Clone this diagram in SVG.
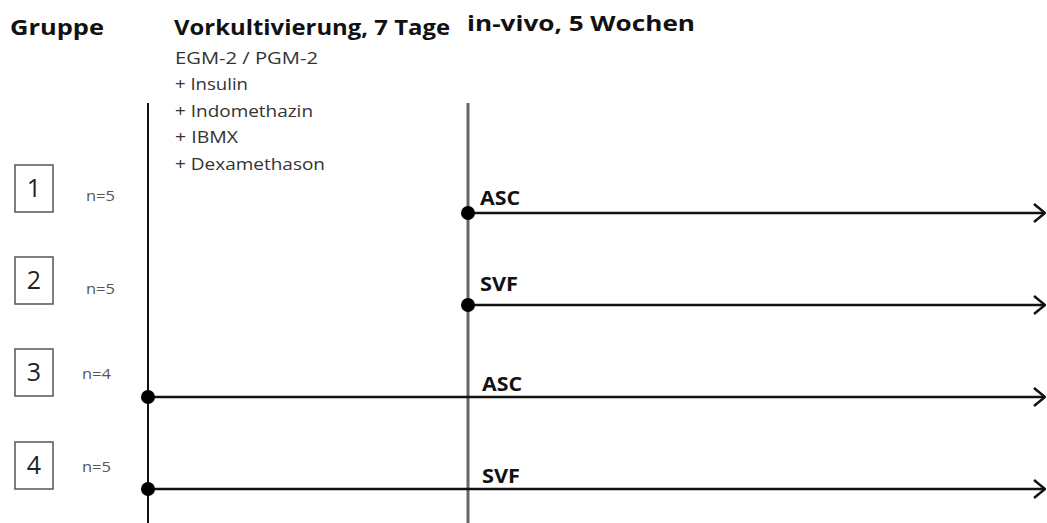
<svg xmlns="http://www.w3.org/2000/svg" width="1047" height="523" viewBox="0 0 1047 523">
  <defs>
    <marker id="chevron" viewBox="0 0 14 20" refX="13" refY="10" markerWidth="14" markerHeight="20" markerUnits="userSpaceOnUse" orient="auto">
      <path d="M2,1 L13,10 L2,19" fill="none" stroke="#111" stroke-width="2.5" stroke-linejoin="miter"/>
    </marker>
    <style>
      text { font-family: "Open Sans", "Liberation Sans", sans-serif; }
      .head { font-size: 21px; font-weight: bold; fill: #111; }
      .med { font-size: 17px; fill: #333; }
      .num { font-size: 25px; fill: #222; text-anchor: middle; }
      .n { font-size: 14px; fill: #555; }
      .cell { font-size: 19px; font-weight: bold; fill: #111; }
      .box { fill: #fff; stroke: #555; stroke-width: 1.5; }
      .row { stroke: #111; stroke-width: 2.5; fill: none; marker-end: url(#chevron); }
      .dot { fill: #000; }
    </style>
  </defs>
  <rect width="1047" height="523" fill="#fff"/>

  <!-- column headings -->
  <g id="headings">
    <text class="head" x="10" y="35" textLength="94" lengthAdjust="spacingAndGlyphs">Gruppe</text>
    <text class="head" x="174" y="35" textLength="276" lengthAdjust="spacingAndGlyphs">Vorkultivierung, 7 Tage</text>
    <text class="head" x="467" y="31" textLength="228" lengthAdjust="spacingAndGlyphs">in-vivo, 5 Wochen</text>
  </g>

  <!-- culture medium and supplements -->
  <g id="medium">
    <text class="med" x="175" y="64" textLength="143" lengthAdjust="spacingAndGlyphs">EGM-2 / PGM-2</text>
    <text class="med" x="175" y="90" textLength="73" lengthAdjust="spacingAndGlyphs">+ Insulin</text>
    <text class="med" x="175" y="117" textLength="138" lengthAdjust="spacingAndGlyphs">+ Indomethazin</text>
    <text class="med" x="175" y="143" textLength="63" lengthAdjust="spacingAndGlyphs">+ IBMX</text>
    <text class="med" x="175" y="170" textLength="150" lengthAdjust="spacingAndGlyphs">+ Dexamethason</text>
  </g>

  <!-- phase boundaries -->
  <g id="phases">
    <line x1="148" y1="103" x2="148" y2="523" stroke="#111" stroke-width="2"/>
    <line x1="468" y1="103" x2="468" y2="523" stroke="#666" stroke-width="3"/>
  </g>

  <!-- groups -->
  <g id="group1">
    <rect class="box" x="15" y="165" width="38" height="47"/>
    <text class="num" x="34" y="197">1</text>
    <text class="n" x="86" y="201" textLength="29" lengthAdjust="spacingAndGlyphs">n=5</text>
  </g>
  <g id="group2">
    <rect class="box" x="15" y="257" width="38" height="47"/>
    <text class="num" x="34" y="289">2</text>
    <text class="n" x="86" y="294" textLength="29" lengthAdjust="spacingAndGlyphs">n=5</text>
  </g>
  <g id="group3">
    <rect class="box" x="15" y="349" width="38" height="47"/>
    <text class="num" x="34" y="381">3</text>
    <text class="n" x="82" y="379" textLength="29" lengthAdjust="spacingAndGlyphs">n=4</text>
  </g>
  <g id="group4">
    <rect class="box" x="15" y="442" width="38" height="47"/>
    <text class="num" x="34" y="474">4</text>
    <text class="n" x="82" y="472" textLength="29" lengthAdjust="spacingAndGlyphs">n=5</text>
  </g>

  <!-- timelines -->
  <g id="connectors">
    <line class="row" x1="468" y1="213" x2="1045" y2="213"/>
    <line class="row" x1="468" y1="305" x2="1045" y2="305"/>
    <line class="row" x1="148" y1="397" x2="1045" y2="397"/>
    <line class="row" x1="148" y1="489" x2="1045" y2="489"/>
    <circle class="dot" cx="468" cy="213" r="7"/>
    <circle class="dot" cx="468" cy="305" r="7"/>
    <circle class="dot" cx="148" cy="397" r="7"/>
    <circle class="dot" cx="148" cy="489" r="7"/>
  </g>

  <!-- cell type labels -->
  <g id="labels">
    <text class="cell" x="480" y="205" textLength="40" lengthAdjust="spacingAndGlyphs">ASC</text>
    <text class="cell" x="480" y="291" textLength="38" lengthAdjust="spacingAndGlyphs">SVF</text>
    <text class="cell" x="482" y="391" textLength="40" lengthAdjust="spacingAndGlyphs">ASC</text>
    <text class="cell" x="482" y="483" textLength="38" lengthAdjust="spacingAndGlyphs">SVF</text>
  </g>
</svg>
